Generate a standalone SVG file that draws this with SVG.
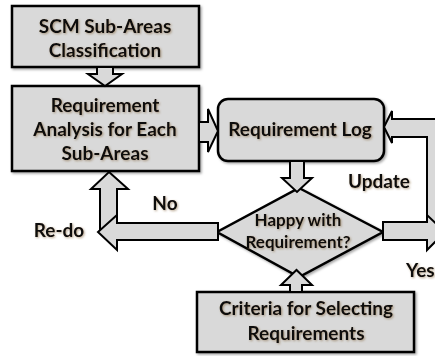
<svg xmlns="http://www.w3.org/2000/svg" width="435" height="356" viewBox="0 0 435 356">
<defs>
<filter id="bs" x="-10%" y="-10%" width="130%" height="130%">
<feDropShadow dx="1.5" dy="1.5" stdDeviation="1.2" flood-color="#000" flood-opacity="0.35"/>
</filter>
<filter id="ts" x="-10%" y="-20%" width="130%" height="150%">
<feDropShadow dx="1" dy="1" stdDeviation="0.9" flood-color="#7a5a30" flood-opacity="0.55"/>
</filter>
</defs>
<style>
.box{fill:#d9d9d9;stroke:#000;stroke-width:2.5;filter:url(#bs)}
.arr{fill:#d9d9d9;stroke:#000;stroke-width:2;stroke-linejoin:miter}
.t{font-family:Lato,"Open Sans","Liberation Sans",sans-serif;font-weight:bold;font-size:19px;fill:#0a0a0a;text-anchor:middle;filter:url(#ts)}
.s{font-size:17px}
</style>
<rect width="435" height="356" fill="#fff"/>
<g id="n1"><rect class="box" x="12" y="6" width="187" height="61"/>
<text class="t" x="105" y="33">SCM Sub-Areas</text><text class="t" x="105" y="57">Classification</text></g>
<g id="n2"><rect class="box" x="12" y="86" width="187" height="85"/>
<text class="t" x="105" y="112">Requirement</text><text class="t" x="105" y="136">Analysis for Each</text><text class="t" x="105" y="160">Sub-Areas</text></g>
<g id="n3"><rect class="box" x="218" y="99" width="166" height="62" rx="10"/>
<text class="t" x="300" y="136">Requirement Log</text></g>
<g id="n4"><polygon class="box" points="299,188 383,232 299,277 217,232"/>
<text class="t s" x="298" y="226">Happy with</text><text class="t s" x="298" y="248">Requirement?</text></g>
<g id="n5"><rect class="box" x="197" y="292" width="217" height="60"/>
<text class="t" x="306" y="315">Criteria for Selecting</text><text class="t" x="306" y="340">Requirements</text></g>
<g id="connectors">
<polygon class="arr" points="97,67 113,67 113,74 122,74 105,86 88,74 97,74"/>
<polygon class="arr" points="199,122 208,122 208,109 218,131 208,152 208,142 199,142"/>
<polygon class="arr" points="290,161 304,161 304,178 312,178 297,192 282,178 290,178"/>
<polygon class="arr" points="290,292 302,292 302,285 312,285 296.5,270 281,285 290,285"/>
<polygon class="arr" points="109,172 128,189 117,189 117,231 100,231 100,189 91,189"/>
<polygon class="arr" points="218,223 117,223 117,215 98,232 117,250 117,240 218,240"/>
<polygon class="arr" points="384,127 392,111 392,119 445,119 445,231 427,231 427,137 392,137 392,143"/>
<polygon class="arr" points="383,222 427,222 427,215 445,232 427,250 427,240 383,240"/>
</g>
<g id="labels">
<text class="t" x="379" y="188">Update</text>
<text class="t" x="165" y="210">No</text>
<text class="t" x="59" y="237">Re-do</text>
<text class="t" x="406" y="277" style="text-anchor:start">Yes</text>
</g>
</svg>
